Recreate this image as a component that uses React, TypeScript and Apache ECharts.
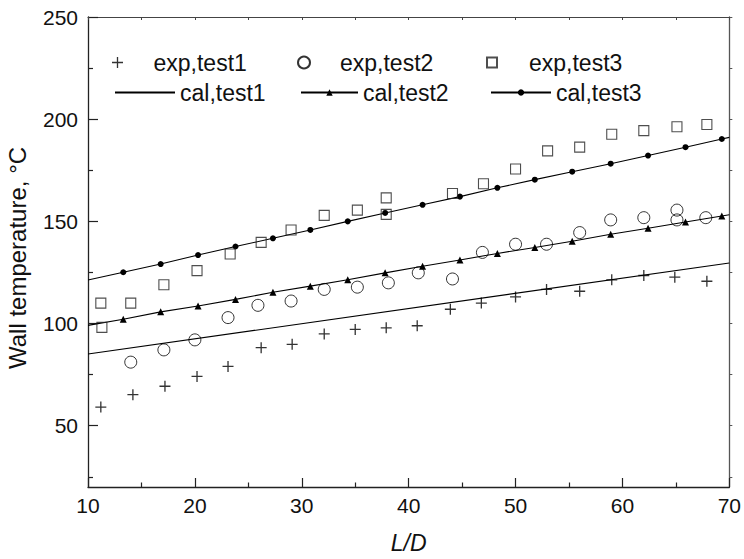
import React, { useEffect, useRef } from 'react';
import * as echarts from 'echarts';

const FONT = '"Liberation Sans", Arial, Helvetica, sans-serif';

// experimental data
const xExp1 = [11.2, 14.2, 17.2, 20.2, 23.1, 26.2, 29.1, 32.1, 35.0, 37.9, 40.8, 43.9, 46.8, 50.0, 52.9, 56.0, 59.0, 62.0, 64.9, 67.9];
const yExp1 = [59.1, 65.2, 69.3, 74.1, 79.0, 88.2, 89.8, 94.9, 97.1, 97.9, 98.9, 107.0, 110.0, 113.0, 116.7, 115.8, 121.4, 123.5, 122.7, 120.7];

const xExp2 = [14.0, 17.1, 20.0, 23.1, 25.9, 29.0, 32.1, 35.2, 38.1, 40.9, 44.1, 46.9, 50.0, 52.9, 56.0, 58.9, 62.0, 65.1, 65.1, 67.8];
const yExp2 = [81.1, 87.1, 92.0, 102.9, 108.9, 111.0, 116.7, 117.8, 119.9, 124.8, 121.8, 134.8, 138.8, 138.8, 144.5, 150.7, 151.8, 155.5, 150.7, 151.8];

const xExp3 = [11.2, 11.3, 14.0, 17.1, 20.2, 23.3, 26.2, 29.0, 32.1, 35.2, 37.9, 37.9, 44.1, 47.0, 50.0, 53.0, 56.0, 59.0, 62.0, 65.1, 67.9];
const yExp3 = [110.0, 98.1, 110.0, 119.0, 125.9, 134.0, 139.7, 145.8, 152.9, 155.5, 161.5, 153.4, 163.6, 168.4, 175.6, 184.5, 186.3, 192.6, 194.4, 196.3, 197.4];

// calculated data
const xCal1 = [10, 70];
const yCal1 = [85.1, 129.6];

const xCal = [10, 13.3, 16.8, 20.3, 23.8, 27.3, 30.8, 34.3, 37.8, 41.3, 44.8, 48.3, 51.8, 55.3, 58.9, 62.4, 65.9, 69.3, 70];
const yCal2 = [99.1, 102.1, 105.7, 108.6, 111.8, 115.3, 118.3, 121.4, 124.8, 128.0, 131.1, 134.3, 137.2, 140.3, 143.7, 146.6, 149.7, 152.6, 153.2];
const yCal3 = [121.3, 125.1, 129.1, 133.5, 137.7, 141.7, 145.8, 150.0, 154.1, 158.1, 162.1, 166.4, 170.4, 174.3, 178.2, 182.2, 186.3, 190.3, 191.1];

const yLabelValues = [50, 100, 150, 200, 250];
const yMinorValues = [25, 75, 125, 175, 225];
const yRightTicks = [25, 50, 75, 100, 125, 150, 175, 200, 225, 250];

const PLUS = 'path://M0,4.4H10V5.6H0Z M4.4,0H5.6V10H4.4Z';
const SQUARE = 'path://M0,0H10V10H0Z';

const pairs = (xs: number[], ys: number[]) => xs.map((x, i) => [x, ys[i]]);
const calPairs = (xs: number[], ys: number[]) =>
  xs.map((x, i) =>
    i === 0 || i === xs.length - 1 ? { value: [x, ys[i]], symbol: 'none' } : { value: [x, ys[i]] }
  );

const legendItem = (name: string, left: number, top: number, itemWidth: number, itemHeight: number, extra: any = {}) => ({
  data: [name],
  left,
  top,
  itemWidth,
  itemHeight,
  padding: 0,
  selectedMode: false,
  textStyle: { fontSize: 23, color: '#111', fontFamily: FONT },
  ...extra,
});

export default function App() {
  const ref = useRef<HTMLDivElement>(null);
  useEffect(() => {
    document.body.style.margin = '0';
    const chart = echarts.init(ref.current!, null, { renderer: 'svg' });
    const axisLine = { show: true, lineStyle: { color: '#222', width: 1.3 } };
    const option: any = {
      animation: false,
      backgroundColor: '#fff',
      textStyle: { fontFamily: FONT },
      grid: { left: 88, right: 10, top: 17, bottom: 67, containLabel: false },
      legend: [
        legendItem('exp,test1', 112, 51, 62, 11),
        legendItem('exp,test2', 297, 51, 62, 12),
        legendItem('exp,test3', 486, 51, 64, 10),
        legendItem('cal,test1', 114, 81, 60, 8, { itemStyle: { color: 'transparent', borderColor: 'transparent', borderWidth: 0 } }),
        legendItem('cal,test2', 300, 81, 57, 8),
        legendItem('cal,test3', 490, 81, 60, 8),
      ],
      xAxis: [
        {
          type: 'value',
          position: 'bottom',
          min: 10,
          max: 70,
          interval: 10,
          axisLine,
          axisTick: { show: true, inside: true, length: 9, lineStyle: { color: '#222', width: 1.2 } },
          minorTick: { show: true, splitNumber: 2, length: 4.5, lineStyle: { color: '#222', width: 1.2 } },
          splitLine: { show: false },
          minorSplitLine: { show: false },
          axisLabel: { fontSize: 21, color: '#111', margin: 8, fontFamily: FONT },
          name: 'L/D',
          nameLocation: 'middle',
          nameGap: 44,
          nameTextStyle: { fontSize: 23, fontStyle: 'italic', color: '#111', fontFamily: FONT },
        },
        {
          type: 'value',
          position: 'top',
          min: 10,
          max: 70,
          interval: 10,
          axisLine: { show: true, lineStyle: { color: '#444', width: 1.2 } },
          axisTick: { show: true, inside: true, length: 3, lineStyle: { color: '#444' } },
          minorTick: { show: true, splitNumber: 2, length: 3, lineStyle: { color: '#444' } },
          splitLine: { show: false },
          axisLabel: { show: false },
        },
      ],
      yAxis: [
        {
          type: 'value',
          position: 'left',
          min: 20,
          max: 250,
          axisLine,
          axisTick: { show: true, inside: true, length: 10, customValues: yLabelValues, lineStyle: { color: '#222', width: 1.2 } },
          axisLabel: { fontSize: 21, color: '#111', margin: 10, fontFamily: FONT, customValues: yLabelValues },
          splitLine: { show: false },
        },
        {
          type: 'value',
          position: 'left',
          min: 20,
          max: 250,
          axisLine: { show: false },
          axisTick: { show: true, inside: true, length: 5, customValues: yMinorValues, lineStyle: { color: '#222', width: 1.2 } },
          axisLabel: { show: false },
          splitLine: { show: false },
        },
        {
          type: 'value',
          position: 'right',
          min: 20,
          max: 250,
          axisLine: { show: true, lineStyle: { color: '#555', width: 1.3 } },
          axisTick: { show: true, inside: false, length: 3, customValues: yRightTicks, lineStyle: { color: '#555' } },
          axisLabel: { show: false },
          splitLine: { show: false },
        },
      ],
      graphic: [
        {
          type: 'text',
          x: 17,
          y: 258,
          rotation: Math.PI / 2,
          style: {
            text: 'Wall temperature, °C',
            fontSize: 24,
            fontFamily: FONT,
            fill: '#111',
            textAlign: 'center',
            textVerticalAlign: 'middle',
          },
        },
      ],
      series: [
        {
          name: 'cal,test1',
          type: 'line',
          data: pairs(xCal1, yCal1),
          symbol: 'none',
          lineStyle: { color: '#000', width: 1.1 },
          itemStyle: { color: '#000' },
          z: 2,
        },
        {
          name: 'cal,test2',
          type: 'line',
          data: calPairs(xCal, yCal2),
          symbol: 'triangle',
          symbolSize: 7,
          showAllSymbol: true,
          lineStyle: { color: '#000', width: 1.1 },
          itemStyle: { color: '#000' },
          z: 2,
        },
        {
          name: 'cal,test3',
          type: 'line',
          data: calPairs(xCal, yCal3),
          symbol: 'circle',
          symbolSize: 6,
          showAllSymbol: true,
          lineStyle: { color: '#000', width: 1.1 },
          itemStyle: { color: '#000' },
          z: 2,
        },
        {
          name: 'exp,test1',
          type: 'scatter',
          data: pairs(xExp1, yExp1),
          symbol: PLUS,
          symbolSize: 11,
          itemStyle: { color: '#000' },
          z: 3,
        },
        {
          name: 'exp,test2',
          type: 'scatter',
          data: pairs(xExp2, yExp2),
          symbol: 'circle',
          symbolSize: 12,
          itemStyle: { color: 'transparent', borderColor: '#000', borderWidth: 1 },
          z: 3,
        },
        {
          name: 'exp,test3',
          type: 'scatter',
          data: pairs(xExp3, yExp3),
          symbol: SQUARE,
          symbolSize: 10,
          itemStyle: { color: 'transparent', borderColor: '#222', borderWidth: 1.1 },
          z: 3,
        },
      ],
    };
    chart.setOption(option);
    return () => chart.dispose();
  }, []);
  return <div ref={ref} style={{ width: 744, height: 559 }} />;
}
